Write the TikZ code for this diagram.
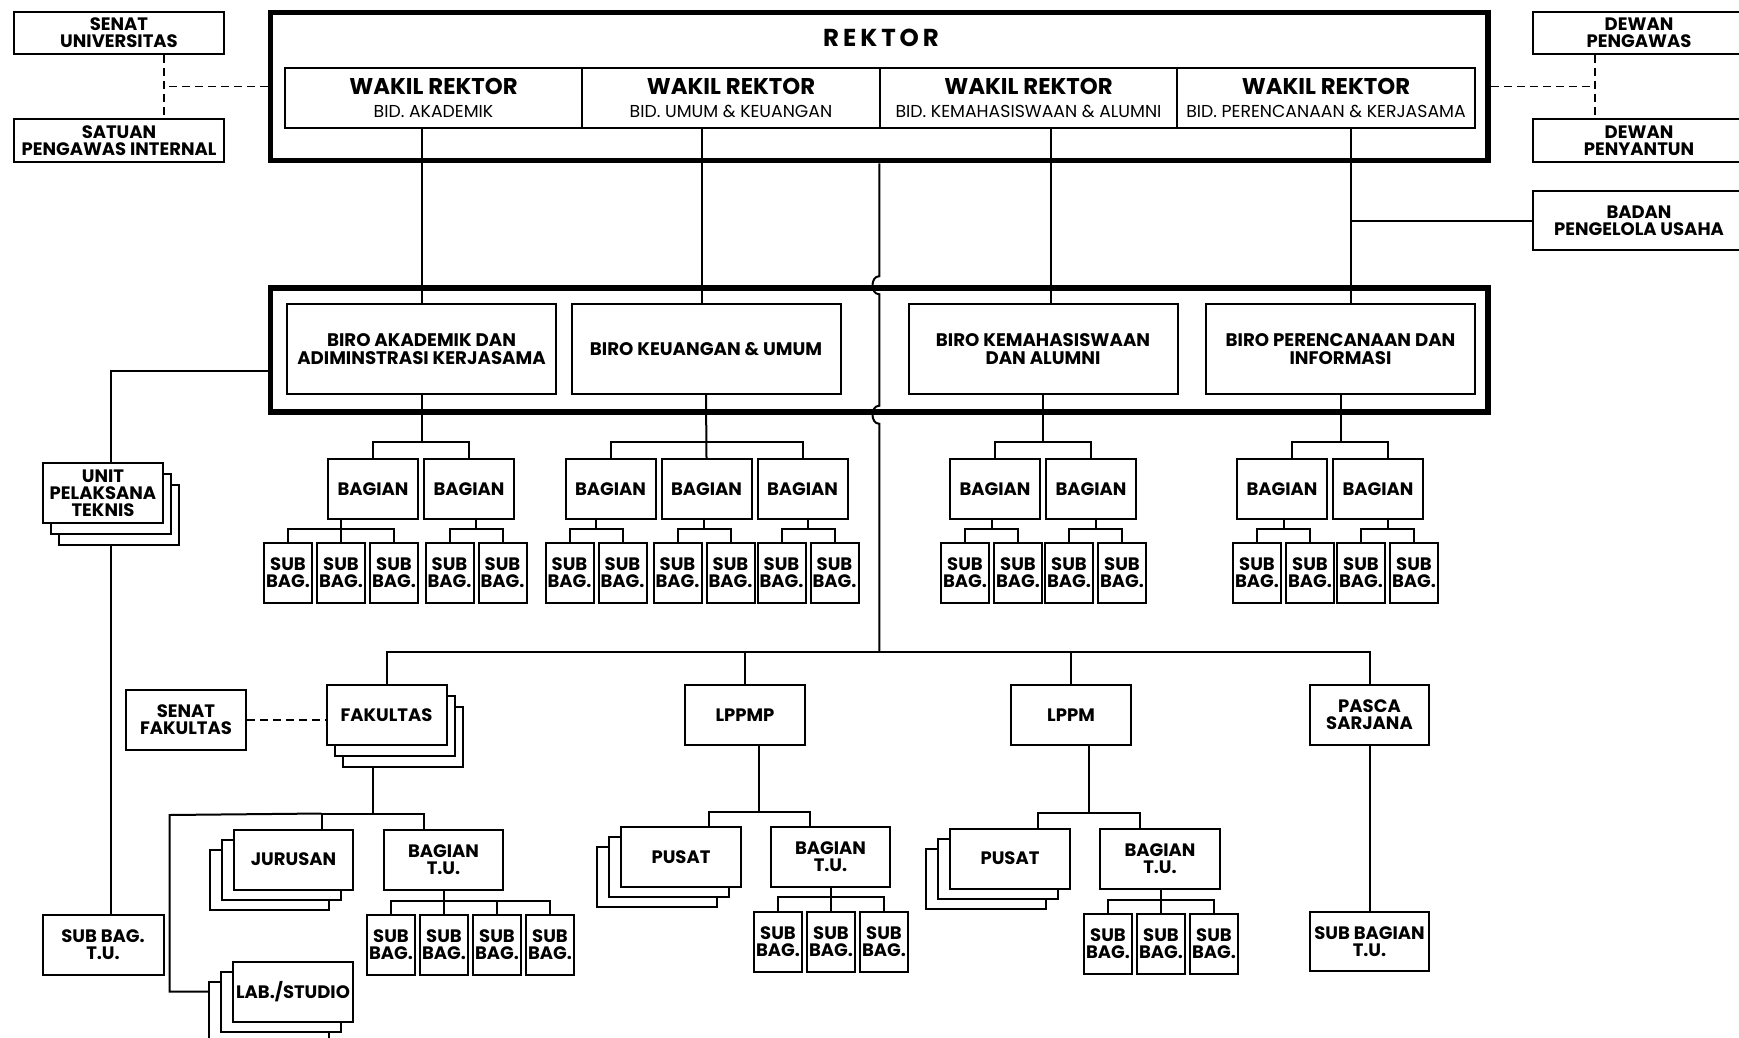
\documentclass[tikz,border=0pt]{standalone}
\usepackage{fontspec}
\setmainfont{Poppins}
\usetikzlibrary{shadows,positioning}
\tikzstyle{plain} = [draw, fill=white, rectangle, line width=2pt, inner sep=0pt, align=center, font=\fontsize{18}{16.8}\selectfont\bfseries]
\tikzstyle{heavy} = [draw, rectangle, line width=5.5pt, inner sep=0pt]
\tikzstyle{wrbox} = [plain, minimum width=297.5pt, minimum height=60pt, font=\fontsize{17.3}{23}\selectfont]
\tikzstyle{birobox} = [plain, minimum width=269pt, minimum height=90pt, font=\fontsize{18.2}{18}\selectfont\bfseries]
\tikzstyle{sidebox} = [plain, minimum width=210pt, minimum height=42pt]
\tikzstyle{unitbox} = [plain, minimum width=120pt, minimum height=60pt]
\tikzstyle{bagbox} = [plain, minimum width=90pt, minimum height=60pt]
\tikzstyle{subbag} = [plain, minimum width=48pt, minimum height=60pt]
\tikzstyle{stackr} = [unitbox,
  general shadow={fill=white, draw=black, line width=2pt, shadow xshift=16pt, shadow yshift=-22pt},
  general shadow={fill=white, draw=black, line width=2pt, shadow xshift=8pt, shadow yshift=-11pt}]
\tikzstyle{stackl} = [unitbox,
  general shadow={fill=white, draw=black, line width=2pt, shadow xshift=-24pt, shadow yshift=-20pt},
  general shadow={fill=white, draw=black, line width=2pt, shadow xshift=-12pt, shadow yshift=-10pt}]
\tikzstyle{conn} = [line width=2pt]
\tikzstyle{advice} = [line width=1.6pt, dash pattern=on 8pt off 5pt]
\newcommand{\wakil}[1]{{\fontsize{22.8}{23}\selectfont\bfseries WAKIL REKTOR}\\#1}

\begin{document}
\begin{tikzpicture}[x=1pt, y=-1pt]
\useasboundingbox (0,0) rectangle (1739,1038);

% pimpinan
\node [heavy, minimum width=1217.5pt, minimum height=148pt] (rektor) at (879.25,86.5) {};
\node [font=\fontsize{24.5}{24}\selectfont\bfseries\addfontfeatures{LetterSpace=16}] (rektorlabel) at (881,38) {REKTOR};
\node [wrbox] (wr1) at (433.5,98) {\wakil{BID. AKADEMIK}};
\node [wrbox, right=-2pt of wr1] (wr2) {\wakil{BID. UMUM \& KEUANGAN}};
\node [wrbox, right=-2pt of wr2] (wr3) {\wakil{BID. KEMAHASISWAAN \& ALUMNI}};
\node [wrbox, right=-2pt of wr3] (wr4) {\wakil{BID. PERENCANAAN \& KERJASAMA}};

\node [sidebox] (senatu) at (119,33) {SENAT\\UNIVERSITAS};
\node [sidebox, minimum height=43pt] (spi) at (119,140.5) {SATUAN\\PENGAWAS INTERNAL};
\node [sidebox, minimum width=212pt] (dewanp) at (1639,33) {DEWAN\\PENGAWAS};
\node [sidebox, minimum width=212pt, minimum height=43pt] (dewany) at (1639,140.5) {DEWAN\\PENYANTUN};
\node [sidebox, minimum width=212pt, minimum height=59pt] (bpu) at (1639,220.5) {BADAN\\PENGELOLA USAHA};

\draw [advice] ([xshift=45pt]senatu.south) -- ([xshift=45pt]spi.north);
\draw [advice] (rektor.west) -- ([xshift=45pt]spi.north |- rektor.west);
\draw [advice] ([xshift=-44pt]dewanp.south) -- ([xshift=-44pt]dewany.north);
\draw [advice] (rektor.east) -- ([xshift=-44pt]dewany.north |- rektor.east);

% biro
\node [heavy, minimum width=1217.5pt, minimum height=124pt] (biro) at (879.25,350) {};
\node [birobox] (biro1) at (421.5,349) {BIRO AKADEMIK DAN\\ADIMINSTRASI KERJASAMA};
\node [birobox] (biro2) at (706,349) {BIRO KEUANGAN \& UMUM};
\node [birobox] (biro3) at (1043,349) {BIRO KEMAHASISWAAN\\DAN ALUMNI};
\node [birobox] (biro4) at (1340.5,349) {BIRO PERENCANAAN DAN\\INFORMASI};

\draw [conn] (biro1.north) -- (biro1.north |- wr1.south);
\draw [conn] ([xshift=-4pt]biro2.north) -- ([xshift=-4pt]biro2.north |- wr2.south);
\draw [conn] ([xshift=8pt]biro3.north) -- ([xshift=8pt]biro3.north |- wr3.south);
\draw [conn] ([xshift=10.5pt]biro4.north) -- ([xshift=10.5pt]biro4.north |- wr4.south);
\draw [conn] (bpu.west) -- ([xshift=10.5pt]biro4.north |- bpu.west);

% bagian
\node [bagbox] (b11) at (373,489) {BAGIAN};
\node [bagbox, right=4pt of b11] (b12) {BAGIAN};
\node [bagbox] (b21) at (610.5,489) {BAGIAN};
\node [bagbox, right=4pt of b21] (b22) {BAGIAN};
\node [bagbox, right=4pt of b22] (b23) {BAGIAN};
\node [bagbox] (b31) at (995,489) {BAGIAN};
\node [bagbox, right=4pt of b31] (b32) {BAGIAN};
\node [bagbox] (b41) at (1282,489) {BAGIAN};
\node [bagbox, right=4pt of b41] (b42) {BAGIAN};

\draw [conn] (b11.north) -- ++(0,-16) -| coordinate[pos=.25] (m1) (b12.north);
\draw [conn] (biro1.south) -- (biro1.south |- m1);
\draw [conn] (b21.north) -- ++(0,-16) -| (b23.north);
\draw [conn] (biro2.south) -- (b22.north);
\draw [conn] (b31.north) -- ++(0,-16) -| coordinate[pos=.25] (m3) (b32.north);
\draw [conn] (biro3.south) -- (biro3.south |- m3);
\draw [conn] ([xshift=10pt]b41.north) -- ++(0,-16) -| coordinate[pos=.25] (m4) ([xshift=10pt]b42.north);
\draw [conn] (biro4.south) -- (biro4.south |- m4);

% sub bagian
\node [subbag] (s111) at (288,573) {SUB\\BAG.};
\node [subbag, right=3pt of s111] (s112) {SUB\\BAG.};
\node [subbag, right=3pt of s112] (s113) {SUB\\BAG.};
\draw [conn] (s111.north) -- ++(0,-13) -| (s113.north);
\draw [conn] (b11.south -| s112.north) -- (s112.north);
\foreach \g/\x in {12/449.5, 21/569.5, 22/677.5, 23/781.5, 31/965, 32/1069, 41/1257, 42/1361} {
  \node [subbag] (s\g1) at (\x,573) {SUB\\BAG.};
  \node [subbag, right=3pt of s\g1] (s\g2) {SUB\\BAG.};
  \draw [conn] (s\g1.north) -- ++(0,-13) -| coordinate[pos=.25] (n\g) (s\g2.north);
  \draw [conn] (b\g.south -| n\g) -- (n\g);
}

% unit pelaksana teknis
\node [stackr] (unit) at (103,493) {UNIT\\PELAKSANA\\TEKNIS};
\node [unitbox, minimum width=121pt] (subtu) at (103,945) {SUB BAG.\\T.U.};
\draw [conn] ([yshift=-21pt]biro.west) -| ([xshift=8pt]unit.north);
\draw [conn] ([xshift=8pt,yshift=-22pt]unit.south) -- ([xshift=8pt]subtu.north);

% fakultas, lembaga, pasca
\coordinate (hub) at (879.25,652);
\draw [conn] (rektor.south) -- ([yshift=9pt]biro.north)
  .. controls +(-9,0) and +(-9,0) .. ([yshift=-9pt]biro.north)
  -- ([yshift=9pt]biro.south)
  .. controls +(-9,0) and +(-9,0) .. ([yshift=-9pt]biro.south) -- (hub);

\node [stackr] (fak) at (386.5,715) {FAKULTAS};
\node [unitbox] (senatf) at (186,720) {SENAT\\FAKULTAS};
\node [unitbox] (lppmp) at (745,715) {LPPMP};
\node [unitbox] (lppm) at (1071,715) {LPPM};
\node [unitbox, minimum width=119pt] (pasca) at (1369.5,715) {PASCA\\SARJANA};

\draw [conn] (fak.north) |- (hub) -| (pasca.north);
\draw [conn] (lppmp.north) -- (lppmp.north |- hub);
\draw [conn] (lppm.north) -- (lppm.north |- hub);
\draw [advice] (senatf.east) -- (senatf.east -| fak.west);

\node [stackl, minimum width=119pt] (jur) at (293.5,859.5) {JURUSAN};
\node [unitbox, minimum width=119pt] (btu1) at (443.5,859.5) {BAGIAN\\T.U.};
\node [stackl] (lab) at (293,991.5) {LAB./STUDIO};
\coordinate (fakbot) at ([yshift=-22pt]fak.south);
\coordinate (fakleft) at (169.5,815);
\draw [conn] ([xshift=28pt]jur.north) -- ++(0,-15) -| coordinate[pos=.25] (fakmid) ([xshift=-20pt]btu1.north);
\draw [conn] (fakmid) -- (fakmid |- fakbot);
\draw [conn] ([xshift=28pt]jur.north |- fakmid) -- (fakleft) |- ([xshift=-24pt]lab.west);

\node [subbag] (sf1) at (391,944.5) {SUB\\BAG.};
\node [subbag, right=3pt of sf1] (sf2) {SUB\\BAG.};
\node [subbag, right=3pt of sf2] (sf3) {SUB\\BAG.};
\node [subbag, right=3pt of sf3] (sf4) {SUB\\BAG.};
\draw [conn] (sf1.north) -- ++(0,-13) -| (sf4.north);
\draw [conn] (btu1.south -| sf2.north) -- (sf2.north);
\draw [conn] (sf3.north) -- ++(0,-13);

\node [stackl] (pusat1) at (681,857) {PUSAT};
\node [unitbox, minimum width=119pt] (btu2) at (830.5,857) {BAGIAN\\T.U.};
\draw [conn] ([xshift=28pt]pusat1.north) -- ++(0,-14) -| coordinate[pos=.25] (lpmid) ([xshift=-21pt]btu2.north);
\draw [conn] (lppmp.south -| lpmid) -- (lpmid);
\node [subbag] (sp1) at (778,942) {SUB\\BAG.};
\node [subbag, right=3pt of sp1] (sp2) {SUB\\BAG.};
\node [subbag, right=3pt of sp2] (sp3) {SUB\\BAG.};
\draw [conn] (sp1.north) -- ++(0,-14) -| (sp3.north);
\draw [conn] (btu2.south -| sp2.north) -- (sp2.north);

\node [stackl] (pusat2) at (1010,858.5) {PUSAT};
\node [unitbox] (btu3) at (1160,858.5) {BAGIAN\\T.U.};
\draw [conn] ([xshift=28pt]pusat2.north) -- ++(0,-15) -| coordinate[pos=.25] (lmid) ([xshift=-20pt]btu3.north);
\draw [conn] (lppm.south -| lmid) -- (lmid);
\node [subbag] (sl1) at (1108,943.5) {SUB\\BAG.};
\node [subbag, right=3pt of sl1] (sl2) {SUB\\BAG.};
\node [subbag, right=3pt of sl2] (sl3) {SUB\\BAG.};
\draw [conn] (sl1.north) -- ++(0,-13) -| (sl3.north);
\draw [conn] (btu3.south -| sl2.north) -- (sl2.north);

\node [unitbox, minimum width=119pt, minimum height=59pt] (subpasca) at (1369.5,941.5) {SUB BAGIAN\\T.U.};
\draw [conn] (pasca.south) -- (subpasca.north);

\end{tikzpicture}
\end{document}
